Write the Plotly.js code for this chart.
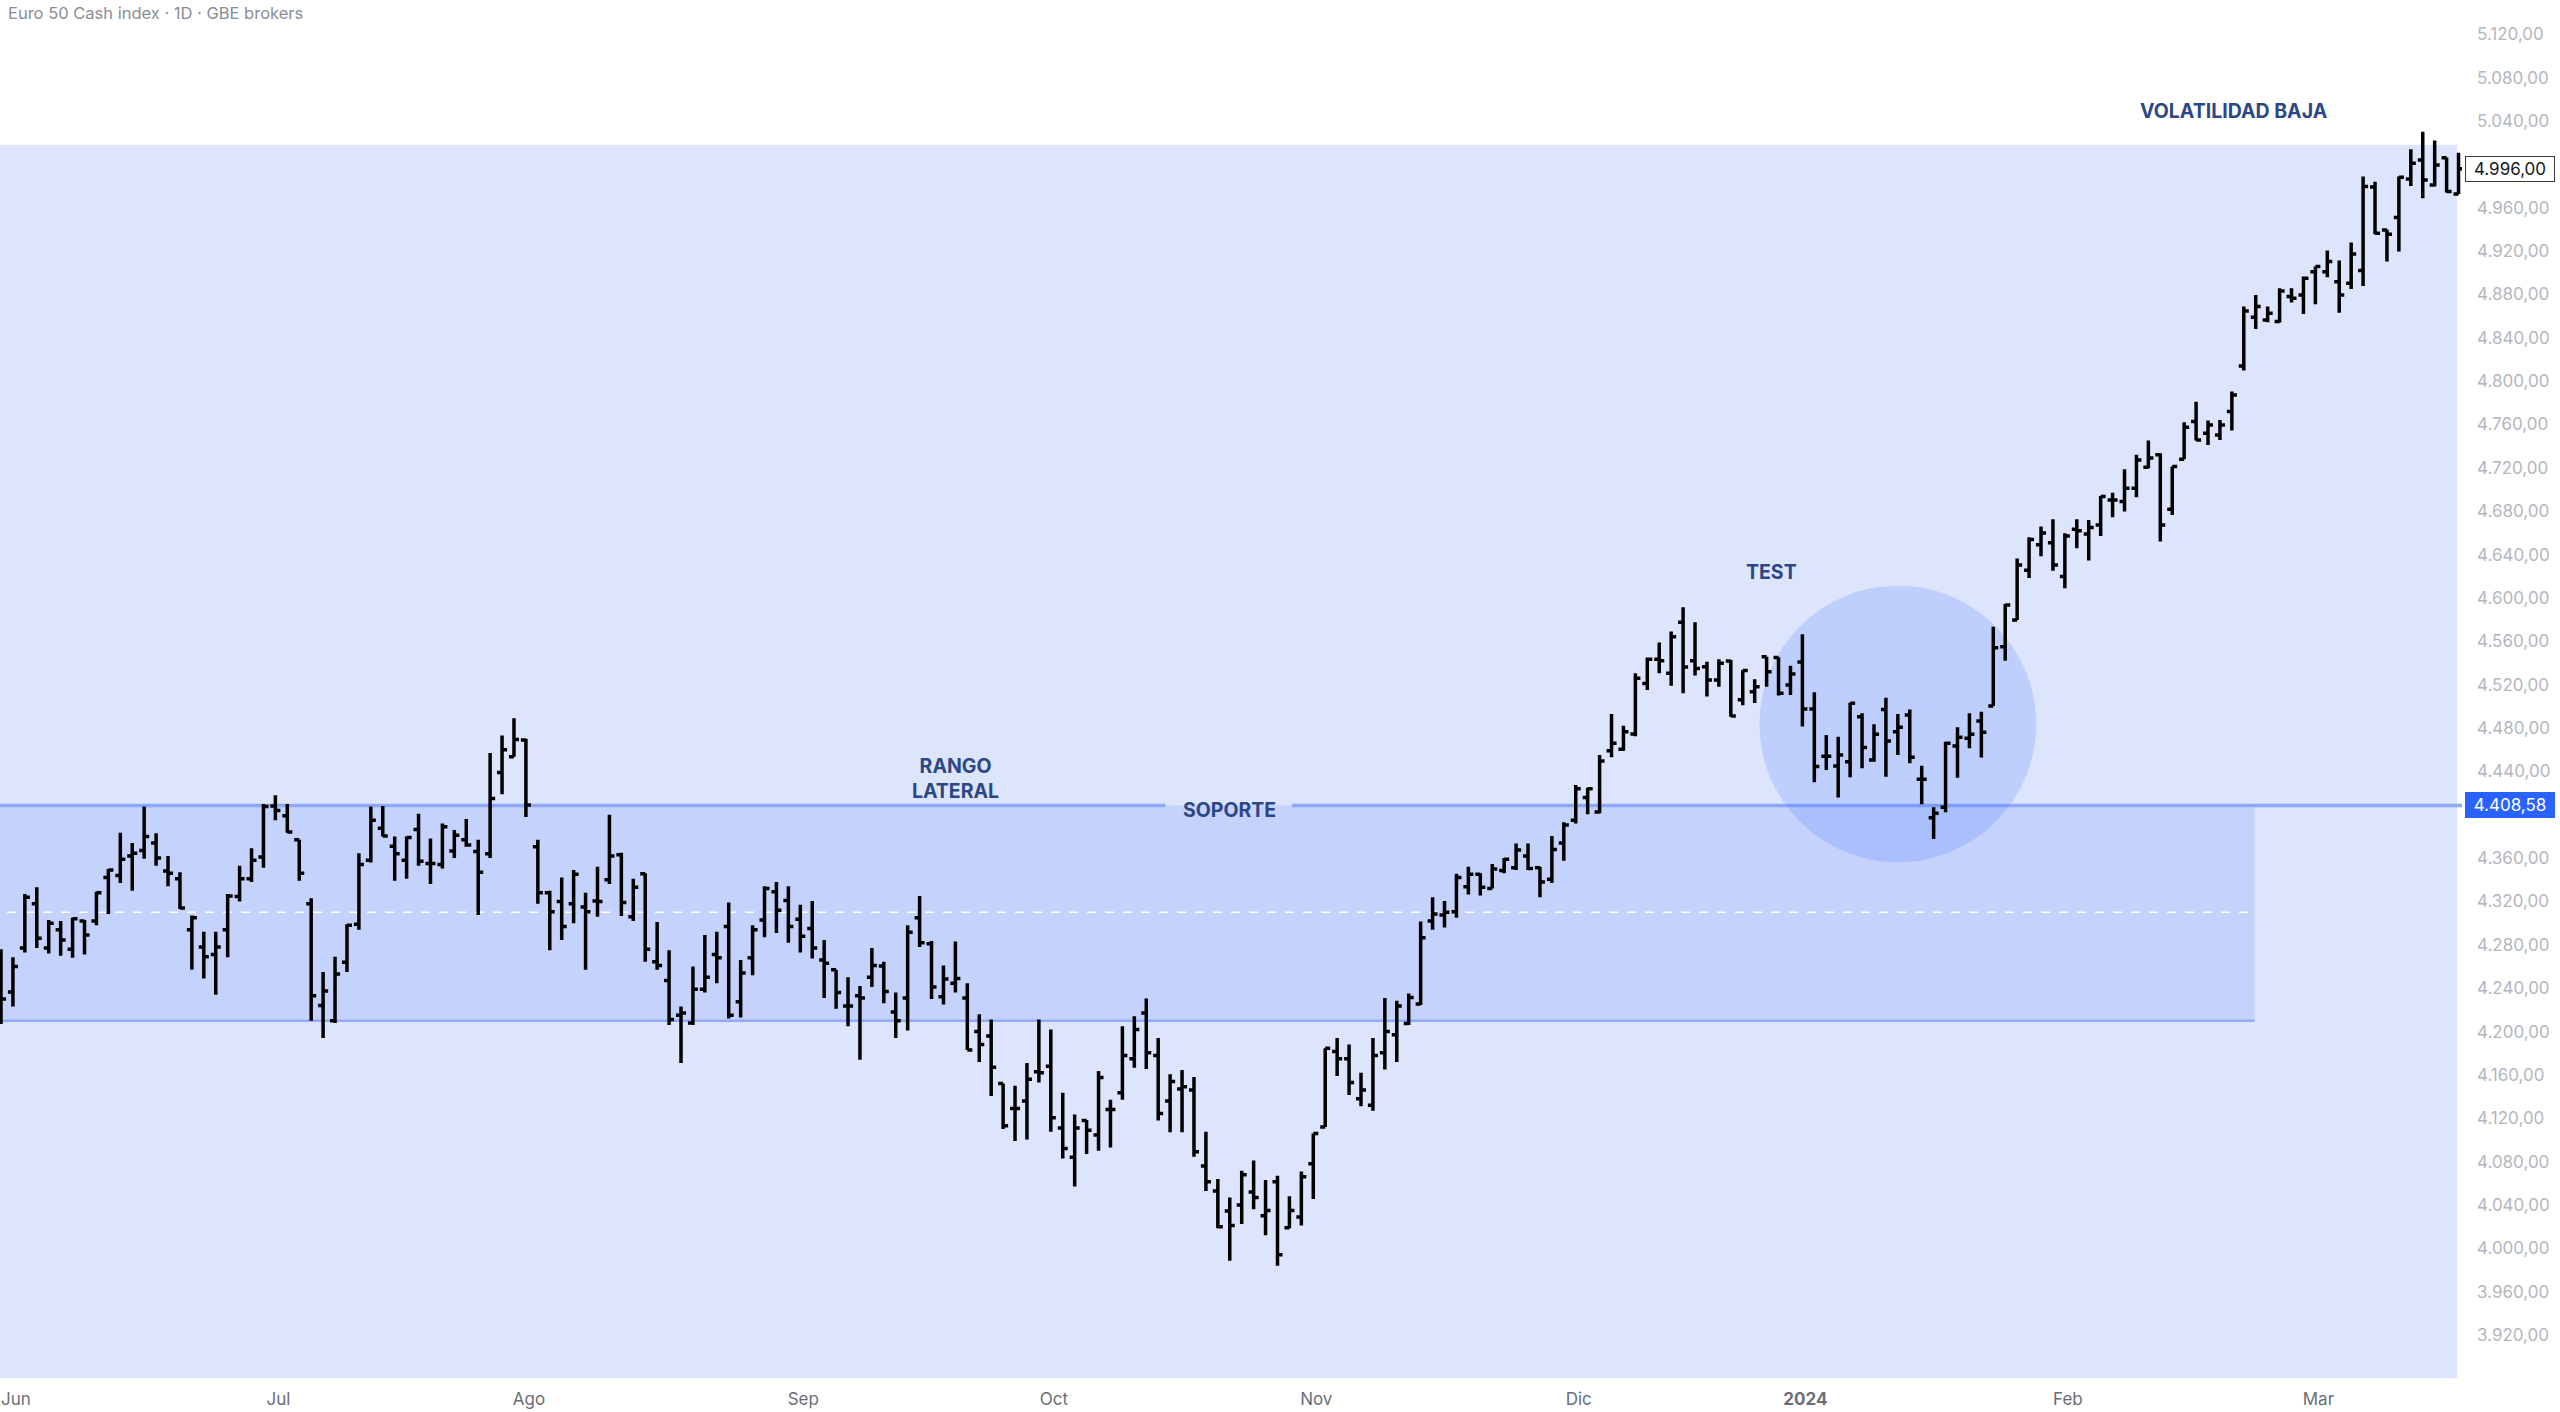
<!DOCTYPE html>
<html>
<head>
<meta charset="utf-8">
<script src="https://cdn.plot.ly/plotly-3.0.1.min.js"></script>
<style>
html,body{margin:0;padding:0;background:#ffffff;}
#chart{width:2560px;height:1412px;}
</style>
</head>
<body>
<div id="chart"></div>
<script>
// ---- data ----
const dates = [
"2023-05-31",
"2023-06-01","2023-06-02","2023-06-05","2023-06-06","2023-06-07","2023-06-08","2023-06-09","2023-06-12","2023-06-13","2023-06-14","2023-06-15","2023-06-16","2023-06-19","2023-06-20","2023-06-21","2023-06-22","2023-06-23","2023-06-26","2023-06-27","2023-06-28","2023-06-29","2023-06-30",
"2023-07-03","2023-07-04","2023-07-05","2023-07-06","2023-07-07","2023-07-10","2023-07-11","2023-07-12","2023-07-13","2023-07-14","2023-07-17","2023-07-18","2023-07-19","2023-07-20","2023-07-21","2023-07-24","2023-07-25","2023-07-26","2023-07-27","2023-07-28","2023-07-31",
"2023-08-01","2023-08-02","2023-08-03","2023-08-04","2023-08-07","2023-08-08","2023-08-09","2023-08-10","2023-08-11","2023-08-14","2023-08-15","2023-08-16","2023-08-17","2023-08-18","2023-08-21","2023-08-22","2023-08-23","2023-08-24","2023-08-25","2023-08-28","2023-08-29","2023-08-30","2023-08-31",
"2023-09-01","2023-09-04","2023-09-05","2023-09-06","2023-09-07","2023-09-08","2023-09-11","2023-09-12","2023-09-13","2023-09-14","2023-09-15","2023-09-18","2023-09-19","2023-09-20","2023-09-21","2023-09-22","2023-09-25","2023-09-26","2023-09-27","2023-09-28","2023-09-29",
"2023-10-02","2023-10-03","2023-10-04","2023-10-05","2023-10-06","2023-10-09","2023-10-10","2023-10-11","2023-10-12","2023-10-13","2023-10-16","2023-10-17","2023-10-18","2023-10-19","2023-10-20","2023-10-23","2023-10-24","2023-10-25","2023-10-26","2023-10-27","2023-10-30","2023-10-31",
"2023-11-01","2023-11-02","2023-11-03","2023-11-06","2023-11-07","2023-11-08","2023-11-09","2023-11-10","2023-11-13","2023-11-14","2023-11-15","2023-11-16","2023-11-17","2023-11-20","2023-11-21","2023-11-22","2023-11-23","2023-11-24","2023-11-27","2023-11-28","2023-11-29","2023-11-30",
"2023-12-01","2023-12-04","2023-12-05","2023-12-06","2023-12-07","2023-12-08","2023-12-11","2023-12-12","2023-12-13","2023-12-14","2023-12-15","2023-12-18","2023-12-19","2023-12-20","2023-12-21","2023-12-22","2023-12-27","2023-12-28","2023-12-29",
"2024-01-02","2024-01-03","2024-01-04","2024-01-05","2024-01-08","2024-01-09","2024-01-10","2024-01-11","2024-01-12","2024-01-15","2024-01-16","2024-01-17","2024-01-18","2024-01-19","2024-01-22","2024-01-23","2024-01-24","2024-01-25","2024-01-26","2024-01-29","2024-01-30","2024-01-31",
"2024-02-01","2024-02-02","2024-02-05","2024-02-06","2024-02-07","2024-02-08","2024-02-09","2024-02-12","2024-02-13","2024-02-14","2024-02-15","2024-02-16","2024-02-19","2024-02-20","2024-02-21","2024-02-22","2024-02-23","2024-02-26","2024-02-27","2024-02-28","2024-02-29",
"2024-03-01","2024-03-04","2024-03-05","2024-03-06","2024-03-07","2024-03-08","2024-03-11","2024-03-12","2024-03-13","2024-03-14","2024-03-15","2024-03-18","2024-03-19"
];

const open = [
4250,4236.5,4277,4318,4277,4294,4276,4302,4302,4342,4344,4362,4367,4374,4348,4341,4294,4278,4271,4294,4324.5,4341,4361,
4408,4399,4377,4318,4224,4210,4264,4299,4358,4387.5,4371,4358,4386.5,4355,4354,4366.5,4377,4366,4364,4439,4453.5,
4469,4370.5,4328,4320,4318,4315,4320.5,4340,4363,4306,4345.5,4264.5,4247,4215,4208,4239,4271,4297,4227.5,4268,4303,4329,4321,
4303.5,4295,4266,4257,4223.5,4233,4250,4260.5,4218,4231,4305,4281,4232,4244.5,4231,4200,4196,4152,4129,4136,4163,
4168,4111,4084,4118,4104.5,4128,4143.5,4175,4217,4178,4136,4147,4146,4076,4053,4034.5,4040,4052,4030,4061.5,4019,4029,
4078,4112,4181.5,4175,4138,4132,4180.5,4197,4207.5,4225.5,4302,4307.5,4310.5,4333.5,4345,4332,4348.5,4351,4362,4351,4340.5,4374,
4395,4416,4402.5,4459,4460.5,4474.5,4521,4543.5,4530.5,4577.5,4542,4536.6,4524.3,4541.8,4506,4513.5,4545.8,4545,4519.7,
4541,4497.6,4454,4445,4449,4490.5,4450.5,4497.2,4476.6,4492,4432.7,4397.3,4406.8,4463.4,4470.5,4486.5,4500.3,4555,4579.7,4625.5,4649,4651,
4619.7,4663.3,4659,4667.3,4690.4,4689,4701.2,4720.6,4732,4681.8,4728,4762.7,4752,4750.4,4772,4814,4859,4856.5,4855,4878,4879.5,
4901,4901,4891.8,4890.3,4902,4979,4939.5,4951,4986.5,5004,4981,5006,4972.7
];
const high = [
4276,4268.5,4327,4333,4303,4302,4305,4303,4329,4350,4383.5,4374,4407.5,4383,4362,4347,4307,4292,4292,4327,4353,4369,4410,
4418,4410,4377,4323,4255,4269,4299,4364.5,4407.5,4408,4380,4380,4401,4378,4392,4386,4396,4377,4457,4473,4489,
4470,4377,4330,4342,4349,4328,4352,4400,4365,4341,4346,4301,4275,4223,4260,4289,4292,4319,4266,4298,4334,4338,4334,
4317,4320.5,4284.5,4257,4250,4242,4277,4264.5,4236,4298,4325,4283.5,4261,4283,4244.5,4216,4211,4152,4150,4171,4211,
4202,4143.5,4123.5,4118.5,4163.5,4137,4205,4214,4230.5,4194,4160.5,4164.5,4158,4107.5,4064,4047,4071.5,4081,4063,4067,4048,4071,
4106,4184.5,4194,4188,4162,4194,4231,4228.5,4235,4301.5,4324,4320.5,4345.5,4352,4346,4354.5,4360,4373.5,4373.5,4352,4380.5,4393,
4427.5,4425,4455,4493,4482,4530.5,4545,4559,4569,4591.3,4577.6,4541.2,4543.4,4542.8,4533.5,4525,4545.8,4545.2,4537.5,
4566.4,4513,4473.6,4472,4503.4,4493.6,4483.4,4508,4493,4497.2,4445.3,4406.8,4467.4,4480.6,4493.6,4495,4573.5,4594.4,4636.5,4656,4666,4672.6,
4659.7,4672.6,4672,4694,4697,4718.7,4732,4745.2,4733.5,4721.2,4762,4781,4763.6,4764.2,4790.4,4868.8,4879.5,4868.8,4885.7,4885.7,4896.5,
4905.7,4920.4,4911.2,4927.8,4988.7,4984,4940,4988.7,5014,5030,5022,5006.2,5010.8
];
const low = [
4207,4223,4273,4277,4272,4270,4268,4271,4298,4308.5,4337,4330,4359.5,4353,4334,4313,4257,4249,4234,4268.5,4320,4338,4351,
4395,4383.5,4339,4210,4194,4208,4255,4294,4356,4380,4339,4341,4353,4336,4350.5,4360,4370.5,4307.5,4360,4419,4453.5,
4398,4318,4275,4284.5,4300,4257,4306,4336,4306.5,4302,4264.5,4257,4206,4171,4206,4236,4244.5,4212,4213,4252,4287,4291,4282,
4273,4267.5,4231,4221,4205,4174,4241,4226,4194,4201,4278,4230,4225,4236,4183,4172,4140.5,4110,4099,4100.5,4153,
4107.5,4083,4057,4087,4090,4093,4137,4166.5,4165.5,4118,4107,4107,4084.5,4053,4018.5,3988.5,4022.5,4036,4012,3984,4018.5,4021,
4045.5,4112,4159,4141.5,4131,4127,4165,4172,4206,4224.5,4294,4296,4305,4326.5,4325.5,4332,4346,4349,4349,4324,4337,4357.5,
4392,4400.5,4401.3,4453,4459,4472.5,4515,4530.5,4519,4512,4528.5,4509,4518,4490.5,4501,4503,4518,4510,4510.5,
4481.3,4430,4441.3,4416,4434.5,4442.8,4449,4435,4455,4447.4,4409.6,4377.6,4402.2,4434.2,4461.3,4452.7,4500.3,4542,4579.7,4618.5,4638.5,4625.2,
4609,4645.8,4634.5,4657.2,4674.4,4679.7,4693,4719.6,4652,4676.6,4728,4745.2,4741.2,4745.8,4754.4,4809.7,4848,4854.3,4854,4872.5,4862,
4871,4895.8,4863.2,4885,4887.8,4935.5,4910.3,4919.5,4980,4968.7,4979.5,4974,4972.7
];
const close = [
4230,4260,4324,4286,4300,4284.5,4304,4289,4328,4349,4359,4364.5,4380,4360,4346,4314,4305,4269,4278,4325,4341,4358,4407.5,
4404,4384,4346,4233,4237.5,4253,4298,4354,4395,4380.5,4364,4379,4357,4355,4389,4381,4372,4347,4415,4460,4469.5,
4409,4328,4310.5,4297,4345,4310.5,4320,4362,4319,4333,4276,4261,4211,4217,4239,4250,4268,4215,4254,4294,4332,4312,4297,
4288,4277,4263,4236,4223.5,4231,4261,4237,4210,4291.5,4282,4241,4248.5,4249,4183,4188,4167,4113,4129,4156,4162,
4120.5,4092,4111,4109,4157.5,4128,4178,4202,4180.5,4124.5,4154,4149,4089,4061.5,4020,4021,4068,4047,4035,3994,4035,4066,
4106,4184.5,4175,4153,4146,4178,4200,4223.5,4231.5,4286.5,4308.5,4310,4342,4345,4333,4350,4359,4367.5,4350.5,4338,4368,4390.5,
4424,4424,4449.5,4466,4476.5,4526,4543.5,4542,4564.3,4536.3,4535,4524.3,4539.7,4491,4533,4518,4532,4512,4529.8,
4497.6,4444.4,4454,4455,4502.8,4462,4474.2,4468,4480.6,4453,4432.7,4401.3,4466,4471.4,4474.2,4476,4554,4593.5,4630.4,4654,4660,4630.4,
4657.2,4662,4665,4693.5,4690.4,4701.2,4727.3,4729,4667.4,4721.2,4757.5,4745.8,4759.6,4759.6,4787.3,4864.8,4868.8,4862.6,4883.2,4876.5,4895,
4905.7,4910.3,4879.5,4917.4,4979.5,4936.4,4935.5,4988,5001,4985.6,4999.5,4975,4996
];

const monthTicks  = ["2023-06-01","2023-07-03","2023-08-01","2023-09-01","2023-10-02","2023-11-01","2023-12-01","2024-01-02","2024-02-01","2024-03-01"];
const monthLabels = ["Jun","Jul","Ago","Sep","Oct","Nov","Dic","<b>2024</b>","Feb","Mar"];
// price-scale labels visible in the reference (4.400 and 5.000 are hidden behind the price tags)
const priceTicks = [3920,3960,4000,4040,4080,4120,4160,4200,4240,4280,4320,4360,4440,4480,4520,4560,4600,4640,4680,4720,4760,4800,4840,4880,4920,4960,5040,5080,5120];

const supportLevel = 4408.58;
const rangeLow = 4210;
const rangeMid = 4310;
const lastPrice = 4996;
const zoneTop = 5018;

// ---- styling ----
const navy = "#2c4785";
const fam = "Inter, 'Noto Sans', sans-serif";
const labelFont = {family: fam, size: 19.5, color: navy, weight: 700};

const trace = {
  type: "ohlc",
  x: dates, open: open, high: high, low: low, close: close,
  increasing: {line: {color: "#000000", width: 3.5}},
  decreasing: {line: {color: "#000000", width: 3.5}},
  tickwidth: 0.42,
  hoverinfo: "skip",
  showlegend: false
};

const xEnd = 205.87;     // right edge of the light zone (category units)
const bandEnd = 188.9;   // right edge of the range band
const gapL = 97.6, gapR = 108.2; // break of the support line around its label

const shapes = [
  {type:"rect", layer:"below", xref:"x", yref:"y", x0:-1, x1:xEnd, y0:3850, y1:zoneTop,
   fillcolor:"#dde5fd", line:{width:0}},
  {type:"rect", layer:"below", xref:"x", yref:"y", x0:-1, x1:bandEnd, y0:rangeLow, y1:supportLevel,
   fillcolor:"#c4d2fc", line:{width:0}},
  {type:"line", layer:"below", xref:"x", yref:"y", x0:-1, x1:bandEnd, y0:rangeLow, y1:rangeLow,
   line:{color:"#93abf6", width:2.5}},
  {type:"line", layer:"below", xref:"x", yref:"y", x0:-1, x1:bandEnd, y0:rangeMid, y1:rangeMid,
   line:{color:"#ffffff", width:1.5, dash:"dash"}},
  {type:"line", layer:"below", xref:"x", yref:"y", x0:-1, x1:gapL, y0:supportLevel, y1:supportLevel,
   line:{color:"#8ea8f6", width:3.5}},
  {type:"line", layer:"below", xref:"x", yref:"y", x0:gapR, x1:207, y0:supportLevel, y1:supportLevel,
   line:{color:"#8ea8f6", width:3.5}},
  {type:"circle", layer:"below", xref:"x", yref:"y", x0:147.4, x1:170.6, y0:4356.1, y1:4611.3,
   fillcolor:"rgba(41,98,255,0.17)", line:{width:0}}
];

const annotations = [
  {xref:"paper", yref:"paper", x:0.0024, y:0.9995, xanchor:"left", yanchor:"top", showarrow:false,
   text:"Euro 50 Cash index · 1D · GBE brokers",
   font:{family:fam, size:16.5, color:"#8a8d96"}},
  {xref:"x", yref:"y", x:187.2, y:5049.3, showarrow:false, text:"VOLATILIDAD BAJA", font:Object.assign({}, labelFont, {size:19.5})},
  {xref:"x", yref:"y", x:148.4, y:4624.2, showarrow:false, text:"TEST", font:Object.assign({}, labelFont, {size:19.5})},
  {xref:"x", yref:"y", x:79.97, y:4433, showarrow:false, text:"RANGO<br>LATERAL",
   font:Object.assign({}, labelFont, {size:19.5}), align:"center"},
  {xref:"x", yref:"y", x:103.0, y:4404.5, showarrow:false, text:"SOPORTE", font:Object.assign({}, labelFont, {size:19.5})},
  {xref:"paper", yref:"y", x:1, y:supportLevel, xanchor:"left", xshift:3, showarrow:false,
   text:"4.408,58", bgcolor:"#2962ff", bordercolor:"#2962ff", borderwidth:1, borderpad:2,
   width:84, height:20, align:"center",
   font:{family:fam, size:17, color:"#ffffff"}},
  {xref:"paper", yref:"y", x:1, y:lastPrice, xanchor:"left", xshift:3, showarrow:false,
   text:"4.996,00", bgcolor:"#ffffff", bordercolor:"#3a3a3a", borderwidth:1, borderpad:2,
   width:84, height:20, align:"center",
   font:{family:fam, size:17, color:"#131722"}}
];

const layout = {
  width: 2560, height: 1412,
  margin: {l:0, r:98, t:0, b:34, pad:0},
  paper_bgcolor: "#ffffff",
  plot_bgcolor: "#ffffff",
  separators: ",.",
  showlegend: false,
  dragmode: false,
  xaxis: {
    type: "category",
    range: [-0.084, 206.29],
    rangeslider: {visible: false},
    showgrid: false, zeroline: false, showline: false,
    ticks: "", tickvals: monthTicks, ticktext: monthLabels,
    ticklabelstandoff: 9,
    ticklabelshift: 3,
    tickfont: {family:fam, size:17, color:"#6a6d78"},
    fixedrange: true
  },
  yaxis: {
    side: "right",
    range: [3880.4, 5151.6],
    showgrid: false, zeroline: false, showline: false,
    ticks: "", tickvals: priceTicks, tickformat: ",.2f",
    ticklabelstandoff: 14,
    tickfont: {family:fam, size:17, color:"#b4b6bd"},
    fixedrange: true
  },
  shapes: shapes,
  annotations: annotations
};

Plotly.newPlot("chart", [trace], layout, {displayModeBar:false, staticPlot:true});
</script>
</body>
</html>
